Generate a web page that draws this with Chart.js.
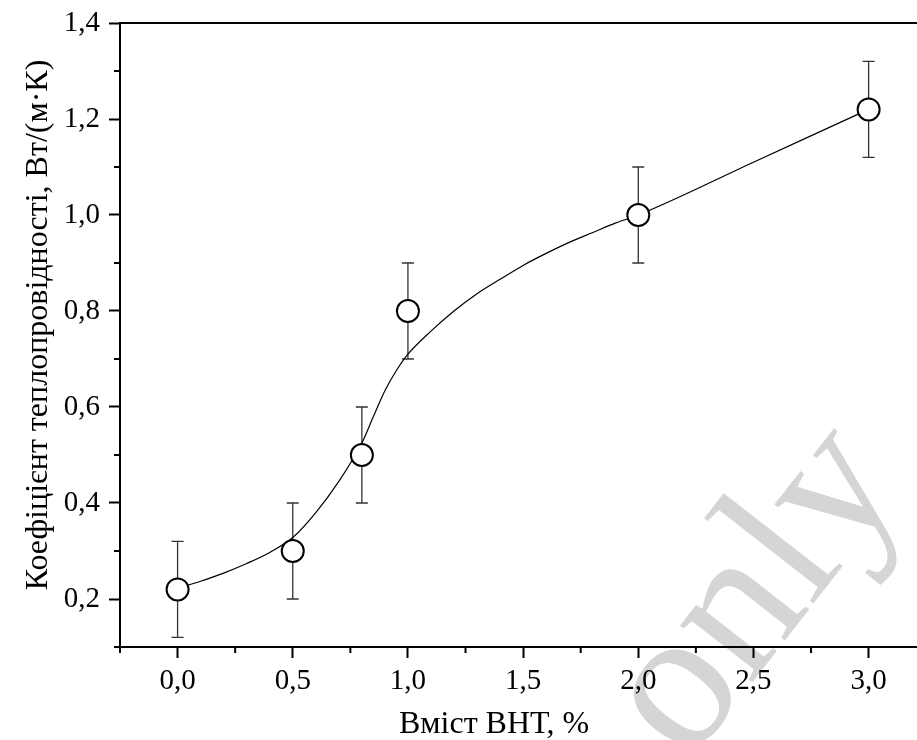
<!DOCTYPE html>
<html>
<head>
<meta charset="utf-8">
<script src="https://cdn.jsdelivr.net/npm/chart.js@4.4.1/dist/chart.umd.min.js"></script>
<style>
    html, body { margin: 0; padding: 0; background: #fff; }
    canvas { display: block; }
</style>
</head>
<body>
<canvas id="chart" width="917" height="740"></canvas>
<script>
// Measured thermal conductivity vs BHT content
const bhtContent = [0, 0.5, 0.8, 1.0, 2.0, 3.0];
const conductivity = [0.22, 0.30, 0.50, 0.80, 1.00, 1.22];
const conductivityErr = [0.10, 0.10, 0.10, 0.10, 0.10, 0.10];

// Fitted curve through the measurements
const fitX = [0, 0.1, 0.2, 0.3, 0.4, 0.5, 0.6, 0.7, 0.8, 0.85, 0.9, 0.95, 1.0, 1.1, 1.2, 1.3, 1.4, 1.5, 1.6, 1.7, 1.8, 1.9, 2.0, 2.5, 3.0];
const fitY = [0.222, 0.237, 0.254, 0.274, 0.297, 0.328, 0.380, 0.445, 0.525, 0.580, 0.634, 0.676, 0.710, 0.758, 0.800, 0.836, 0.866, 0.895, 0.920, 0.943, 0.963, 0.983, 1.000, 1.110, 1.220];

// Axis ticks
const xMajorTicks = [0, 0.5, 1.0, 1.5, 2.0, 2.5, 3.0];
const xMinorTicks = [-0.25, 0.25, 0.75, 1.25, 1.75, 2.25, 2.75];
const yMajorTicks = [0.2, 0.4, 0.6, 0.8, 1.0, 1.2, 1.4];
const yMinorTicks = [0.1, 0.3, 0.5, 0.7, 0.9, 1.1, 1.3];

const xTitle = 'Вміст ВНТ, %';
const yTitle = 'Коефіцієнт теплопровідності, Вт/(м·К)';
const stampText = 'only';

const SERIF = '"Liberation Serif", "Times New Roman", serif';
const MAJOR_LEN = 11;
const MINOR_LEN = 6;

const fmt = v => v.toFixed(1).replace('.', ',');

// grey stamp behind everything
const stampPlugin = {
    id: 'stamp',
    beforeDraw(chart) {
        const ctx = chart.ctx;
        ctx.save();
        ctx.translate(756, 592);
        ctx.rotate(-52 * Math.PI / 180);
        ctx.font = '200px ' + SERIF;
        ctx.fillStyle = '#d5d5d5';
        ctx.textAlign = 'center';
        ctx.textBaseline = 'middle';
        ctx.fillText(stampText, 0, 0);
        ctx.restore();
    }
};

// error bars, minor ticks and the top frame line
const decorPlugin = {
    id: 'decor',
    beforeDatasetsDraw(chart) {
        const ctx = chart.ctx;
        const xs = chart.scales.x, ys = chart.scales.y;
        const area = chart.chartArea;
        ctx.save();

        ctx.strokeStyle = '#000';
        ctx.lineWidth = 2;
        ctx.beginPath();
        ctx.moveTo(area.left, area.top);
        ctx.lineTo(area.right, area.top);
        ctx.stroke();

        ctx.beginPath();
        xMinorTicks.forEach(v => {
            const px = xs.getPixelForValue(v);
            ctx.moveTo(px, area.bottom);
            ctx.lineTo(px, area.bottom + MINOR_LEN);
        });
        yMinorTicks.forEach(v => {
            const py = ys.getPixelForValue(v);
            ctx.moveTo(area.left, py);
            ctx.lineTo(area.left - MINOR_LEN, py);
        });
        ctx.stroke();

        ctx.strokeStyle = '#333';
        ctx.lineWidth = 1.3;
        ctx.beginPath();
        bhtContent.forEach((x, i) => {
            const px = xs.getPixelForValue(x);
            const top = ys.getPixelForValue(conductivity[i] + conductivityErr[i]);
            const bot = ys.getPixelForValue(conductivity[i] - conductivityErr[i]);
            ctx.moveTo(px, top);
            ctx.lineTo(px, bot);
            ctx.moveTo(px - 6, top);
            ctx.lineTo(px + 6, top);
            ctx.moveTo(px - 6, bot);
            ctx.lineTo(px + 6, bot);
        });
        ctx.stroke();
        ctx.restore();
    },
    afterDraw(chart) {
        const ctx = chart.ctx;
        ctx.save();
        ctx.fillStyle = '#000';
        ctx.font = '32px ' + SERIF;
        ctx.textAlign = 'center';
        ctx.textBaseline = 'alphabetic';
        ctx.fillText(xTitle, 494, 733);

        ctx.translate(47, 325);
        ctx.rotate(-Math.PI / 2);
        ctx.fillText(yTitle, 0, 0);
        ctx.restore();
    }
};

const axisCommon = {
    type: 'linear',
    border: { display: true, color: '#000', width: 2 },
    grid: {
        drawOnChartArea: false,
        color: '#000',
        tickLength: MAJOR_LEN,
        tickWidth: 2
    },
    ticks: {
        color: '#000',
        font: { family: SERIF, size: 29 },
        callback: v => fmt(v)
    },
    title: { display: false }
};

new Chart(document.getElementById('chart'), {
    type: 'scatter',
    data: {
        datasets: [
            {
                label: 'points',
                data: bhtContent.map((x, i) => ({ x, y: conductivity[i] })),
                pointRadius: 11,
                pointBackgroundColor: '#fff',
                pointBorderColor: '#000',
                pointBorderWidth: 2,
                order: 0
            },
            {
                label: 'fit',
                data: fitX.map((x, i) => ({ x, y: fitY[i] })),
                showLine: true,
                borderColor: '#000',
                borderWidth: 1.2,
                pointRadius: 0,
                cubicInterpolationMode: 'monotone',
                order: 1
            }
        ]
    },
    options: {
        responsive: false,
        animation: false,
        devicePixelRatio: 1,
        layout: {
            autoPadding: false,
            padding: { top: 23, right: 0, left: 0, bottom: 0 }
        },
        plugins: {
            legend: { display: false },
            tooltip: { enabled: false }
        },
        scales: {
            x: {
                ...axisCommon,
                min: -0.25,
                max: 3.21,
                ticks: { ...axisCommon.ticks, padding: 6, maxRotation: 0 },
                afterBuildTicks: s => { s.ticks = xMajorTicks.map(v => ({ value: v })); },
                afterFit: s => {
                    s.height = 93;
                    s.paddingLeft = 0;
                    s.paddingRight = 0;
                }
            },
            y: {
                ...axisCommon,
                min: 0.1,
                max: 1.4,
                ticks: { ...axisCommon.ticks, padding: 9 },
                afterBuildTicks: s => { s.ticks = yMajorTicks.map(v => ({ value: v })); },
                afterFit: s => {
                    s.width = 120;
                    s.paddingTop = 0;
                    s.paddingBottom = 0;
                }
            }
        }
    },
    plugins: [stampPlugin, decorPlugin]
});
</script>
</body>
</html>
